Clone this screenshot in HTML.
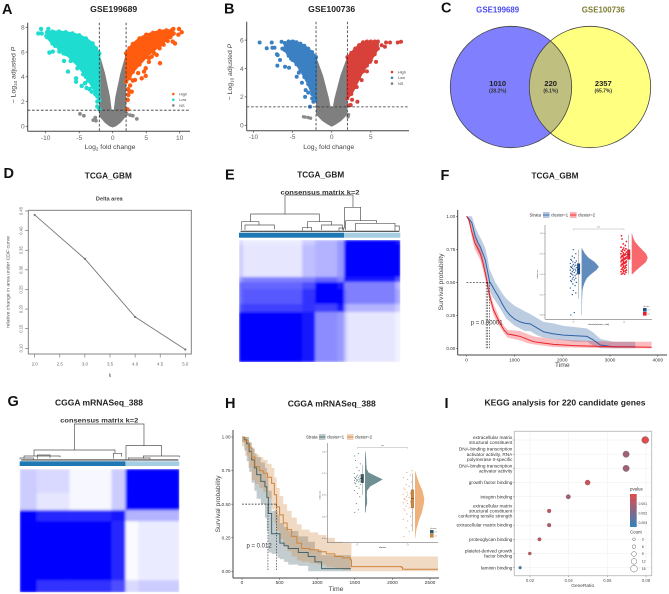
<!DOCTYPE html>
<html lang="en">
<head>
<meta charset="utf-8">
<title>Multi-panel figure: volcano, Venn, consensus, survival and KEGG plots</title>
<style>
html,body{margin:0;padding:0;background:#fff;}
svg{display:block;filter:blur(0.3px);font-family:"Liberation Sans","DejaVu Sans",sans-serif;}
.ttl{font-weight:bold;font-size:8.6px;fill:#222;text-anchor:middle;}
.ltr{font-weight:bold;font-size:14.5px;fill:#111;}
.axt{font-size:6.8px;fill:#444;text-anchor:middle;}
</style>
</head>
<body>
<svg id="figure" width="669" height="594" viewBox="0 0 669 594" xmlns="http://www.w3.org/2000/svg">
<defs>
  <filter id="softCells" x="-5%" y="-5%" width="110%" height="110%"><feGaussianBlur stdDeviation="1.3"/></filter>
  <clipPath id="heatClipE"><rect x="239" y="240" width="161.3" height="122"/></clipPath>
  <clipPath id="heatClipG"><rect x="19.7" y="469" width="159.6" height="123.3"/></clipPath>
</defs>
<rect x="0" y="0" width="669" height="594" fill="#fff"/>

<g id="panelA"></g>
<g id="panelB"></g>
<g id="panelC">
  <defs><clipPath id="vennClip"><circle cx="511" cy="87" r="60.7"/></clipPath></defs>
  <circle cx="511" cy="87" r="60.7" fill="#8080ff"/>
  <circle cx="590" cy="87" r="60.7" fill="#ffff80"/>
  <circle cx="590" cy="87" r="60.7" fill="#bfbf80" clip-path="url(#vennClip)"/>
  <circle cx="511" cy="87" r="60.7" fill="none" stroke="#444" stroke-width="0.8"/>
  <circle cx="590" cy="87" r="60.7" fill="none" stroke="#444" stroke-width="0.8"/>
  <text x="497.7" y="12.5" font-size="7.8" font-weight="bold" fill="#4a4af0" text-anchor="middle" textLength="43" lengthAdjust="spacingAndGlyphs">GSE199689</text>
  <text x="603.3" y="12.5" font-size="7.8" font-weight="bold" fill="#7d7d30" text-anchor="middle" textLength="43" lengthAdjust="spacingAndGlyphs">GSE100736</text>
  <text x="497.7" y="86" font-size="7.6" font-weight="bold" fill="#222" text-anchor="middle">1010</text>
  <text x="497.7" y="92.5" font-size="5" font-weight="bold" fill="#333" text-anchor="middle">(28.2%)</text>
  <text x="550.7" y="86" font-size="7.6" font-weight="bold" fill="#222" text-anchor="middle">220</text>
  <text x="550.7" y="92.5" font-size="5" font-weight="bold" fill="#333" text-anchor="middle">(6.1%)</text>
  <text x="603.3" y="86" font-size="7.6" font-weight="bold" fill="#222" text-anchor="middle">2357</text>
  <text x="603.3" y="92.5" font-size="5" font-weight="bold" fill="#333" text-anchor="middle">(65.7%)</text>
</g>
<g id="panelD"></g>
<g id="panelE"></g>
<g id="panelF"></g>
<g id="panelG"></g>
<g id="panelH"></g>
<g id="panelI"></g>

<g>
  <text class="ltr" x="2" y="14">A</text>
  <text class="ltr" x="224" y="13.5">B</text>
  <text class="ltr" x="441" y="12.5">C</text>
  <text class="ltr" x="3.5" y="178">D</text>
  <text class="ltr" x="225" y="179.5">E</text>
  <text class="ltr" x="440.5" y="180">F</text>
  <text class="ltr" x="7.5" y="406">G</text>
  <text class="ltr" x="225" y="408">H</text>
  <text class="ltr" x="444.5" y="408">I</text>
</g>

<g>
  <text class="ttl" x="113.7" y="12" textLength="47" lengthAdjust="spacingAndGlyphs">GSE199689</text>
  <text class="ttl" x="331.7" y="12" textLength="47" lengthAdjust="spacingAndGlyphs">GSE100736</text>
  <text class="ttl" x="108.3" y="178.5" textLength="47" lengthAdjust="spacingAndGlyphs">TCGA_GBM</text>
  <text class="ttl" x="320.7" y="177.5" textLength="47" lengthAdjust="spacingAndGlyphs">TCGA_GBM</text>
  <text class="ttl" x="555" y="178.5" textLength="47" lengthAdjust="spacingAndGlyphs">TCGA_GBM</text>
  <text class="ttl" x="99" y="405.5" textLength="88" lengthAdjust="spacingAndGlyphs">CGGA mRNASeq_388</text>
  <text class="ttl" x="331.7" y="406.5" textLength="88" lengthAdjust="spacingAndGlyphs">CGGA mRNASeq_388</text>
  <text class="ttl" x="565" y="405.5" textLength="161" lengthAdjust="spacingAndGlyphs">KEGG analysis for 220 candidate genes</text>
  <text x="109.3" y="200.5" font-size="5.6" font-weight="bold" fill="#444" text-anchor="middle">Delta area</text>
  <text x="320" y="194.5" font-size="6.4" font-weight="bold" fill="#333" text-anchor="middle" textLength="79" lengthAdjust="spacingAndGlyphs">consensus matrix k=2</text>
  <text x="99.3" y="422.5" font-size="6.4" font-weight="bold" fill="#333" text-anchor="middle" textLength="78" lengthAdjust="spacingAndGlyphs">consensus matrix k=2</text>
</g>

<g>
  <text class="axt" x="110" y="149" font-size="7">Log<tspan font-size="4.6" dy="1.5">2</tspan><tspan dy="-1.5"> fold change</tspan></text>
  <text class="axt" transform="translate(15.5,75) rotate(-90)">&#8722; Log<tspan font-size="4.6" dy="1.5">10</tspan><tspan dy="-1.5"> adjusted </tspan><tspan font-style="italic">P</tspan></text>
  <text class="axt" x="328.7" y="149">Log<tspan font-size="4.6" dy="1.5">2</tspan><tspan dy="-1.5"> fold change</tspan></text>
  <text class="axt" transform="translate(232,72) rotate(-90)">&#8722; Log<tspan font-size="4.6" dy="1.5">10</tspan><tspan dy="-1.5"> adjusted </tspan><tspan font-style="italic">P</tspan></text>
  <text x="110" y="377" font-size="5" fill="#555" text-anchor="middle">k</text>
  <text transform="translate(9.5,282) rotate(-90)" font-size="4.6" fill="#555" text-anchor="middle" textLength="92" lengthAdjust="spacingAndGlyphs">relative change in area under CDF curve</text>
  <text class="axt" x="562.3" y="367">Time</text>
  <text class="axt" transform="translate(443,282) rotate(-90)" font-size="6.2">Survival probability</text>
  <text class="axt" x="336" y="591">Time</text>
  <text class="axt" transform="translate(220,504) rotate(-90)" font-size="6.2">Survival probability</text>
  <text x="582.7" y="587" font-size="4.8" fill="#444" text-anchor="middle">GeneRatio</text>
</g>
</svg>

<script>
/* ---------- Panel A volcano data ---------- */
const aGrayX=[-2,-1.15,-0.4,-0.15,0.15,0.4,1.15,2,2,1.2,0.5,0,-0.5,-1.2,-2];
const aGrayY=[5.9,4.3,2.4,1.3,1.3,2.4,4.3,5.9,0.8,0.3,0,-0.1,0,0.3,0.8];
const aLowBandX=[-2,-2.5,-3,-4,-5,-6,-7,-8,-9,-9.8];
const aLowBandTop=[5.9,6.3,6.7,7.1,7.35,7.5,7.6,7.65,7.65,7.6];
const aLowBandBottom=[2.1,2.7,3.2,4.0,4.8,5.35,5.85,6.3,6.7,7.2];
const aHighBandX=[2,2.5,3,4,5,6,7,8,8.8];
const aHighBandTop=[5.9,6.3,6.65,7.1,7.4,7.55,7.7,7.75,7.75];
const aHighBandBottom=[3.6,3.9,4.4,5.0,5.6,6.1,6.5,7.0,7.4];
const aLowX=[-10.7,-9.6,-11.1,-10.6,-9.45,-8.95,-7.96,-7.36,-7.26,-6.27,-5.87,-6.67,-5.27,-5.47,-5.47,-4.63,-4.13,-3.48,-3.13,-2.29,-2.29,-2.3,-2,-9.9,-9.3,-8.8,-8.3,-7.8,-8.6,-7.2,-6.6,-6.1,-5.2,-4.4,-3.7,-3.9,-2.6,-2.2];
const aLowY=[7.87,7.87,7.5,7.5,5.96,6.04,6.04,5.9,5.28,5.28,5.77,4.42,4.69,3.88,3.6,3.26,3.48,3,2.8,2.4,2,1.6,1.37,7.3,7.1,6.9,6.7,6.4,6.5,6.2,5.8,5.4,5.1,4.2,3.7,3.1,2.6,3.1];
const aHighX=[9.05,9.9,10.3,9.8,9.3,8.95,6.57,7.06,5.82,5.42,4.93,4.68,4.93,4.33,3.33,2.84,2.34,2.24,2.2,9.1,8.6,8.2,7.6,7,6.2,5.4,3.8,3,2.6,2.3,2.5];
const aHighY=[7.87,7.87,7.6,7.4,6.7,6.85,5.77,5.1,5.63,5.5,4.69,4.42,4.07,3.88,3.75,2.8,2.53,2.13,1.37,7.5,7.2,6.9,6.6,6.3,5.9,5.2,4.3,3.7,3.3,3,2.8];
const aNsX=[-4.88,-4.3,-2.6,-2.5,-2.9,2.1,2.6,3,3.6];
const aNsY=[1,0.85,0.7,0.45,0.5,1,0.9,0.85,0.6];
const aXTicks=[-10,-5,0,5,10];
const aYTicks=[0,2,4,6,8];

/* ---------- Panel B volcano data ---------- */
const bGrayX=[-2,-1.1,-0.35,-0.15,0.15,0.35,1.1,2,2,1.2,0.5,0,-0.5,-1.2,-2];
const bGrayY=[4.85,3.5,1.9,1.3,1.3,1.9,3.5,4.85,0.75,0.3,0.05,-0.1,0.05,0.3,0.75];
const bLowBandX=[-2,-2.5,-3,-3.5,-4,-4.5,-5,-5.5,-6];
const bLowBandTop=[4.8,5.15,5.4,5.6,5.75,5.85,5.9,5.9,5.8];
const bLowBandBottom=[1.8,2.2,2.9,3.4,3.9,4.3,4.6,4.9,5.3];
const bHighBandX=[2,2.5,3,3.5,4,4.5,5,5.5,5.9];
const bHighBandTop=[4.8,5.1,5.4,5.65,5.85,5.9,5.9,5.9,5.9];
const bHighBandBottom=[1.9,2.2,2.7,3.3,3.8,4.2,4.6,5.0,5.4];
const bLowX=[-9.2,-7.66,-8.3,-7.57,-7.3,-6.9,-6.94,-6.6,-5.96,-5.45,-6.4,-5.5,-4.9,-4.47,-3.4,-3.32,-2.77,-2.34,-6.3,-7,-5.2,-4.2,-3.8,-3,-2.5];
const bLowY=[5.83,5.83,5.43,5.46,5.46,4.94,4.2,4.6,4.12,4.05,5.88,5.88,5.88,3.42,2,2.48,1.31,1.66,5.4,5,4.7,3.7,3,2.3,1.9];
const bHighX=[8.85,8.43,7.45,6.94,6.8,6.38,5.74,5.66,4.9,3.28,2.43,3.2,3.83,2.2,2.6,4.5,5.2];
const bHighY=[5.88,5.83,5.83,5.83,5.53,5.64,5.76,4.47,4.47,1.66,1.43,2.7,3.18,1.4,1.8,3.8,5.0];
const bNsX=[-3.6,-3.4,-3,-2.7,2.1,2.15];
const bNsY=[0.6,0.58,0.55,0.5,0.6,0.75];
const bXTicks=[-10,-5,0,5];
const bYTicks=[0,2,4,6];

/* ---------- Panel D delta-area data ---------- */
const dK=[2,3,4,5];
const dDelta=[0.44,0.328,0.18,0.097];
const dXTicks=[2,2.5,3,3.5,4,4.5,5];
const dYTicks=[0.10,0.15,0.20,0.25,0.30,0.35,0.40,0.45];

/* ---------- Panel E consensus data ---------- */
const eColSamples=[4,59,13,22,7,3,48,5];
const eRowSamples=[5,32,5,7,15,8,50];
const eMatrix=[
 [.15,.08,.2,.3,.4,.95,1,.95],
 [.2,.1,.25,.3,.4,1,1,1],
 [.4,.5,.5,.6,.5,.95,.9,.7],
 [.6,.6,.7,1,.9,.5,.5,.3],
 [.6,.65,.8,1,1,.55,.5,.35],
 [.7,.75,.8,.75,.9,.4,.3,.2],
 [1,1,.9,.45,.4,.2,.1,.05]
];
const eClusterSizes=[105,56];
const eMerges=[[210,414,105,162,142],[107,313,162,185,185],[389,437,142,205,182],[80,132,185,210,195],[90,178,195,210,208],[278,350,185,205,195],[262,290,203,212,212],[320,382,195,210,210],[392,485,182,210,190],[422,540,190,212,198],[540,553,198,212,212],[372,386,204,212,212]];

/* ---------- Panel G consensus data ---------- */
const gColSamples=[17,33,42,14,13,41];
const gRowSamples=[24,17,11,59,12];
const gMatrix=[
 [.2,.15,.03,.2,1,1],
 [.2,.1,.03,.2,1,1],
 [1,.85,.85,.9,.3,.3],
 [1,1,1,.85,.02,.08],
 [1,.8,.8,.7,.15,.2]
];
const gClusterSizes=[106,54];
const gMerges=[[223,432,192,270,257],[102,345,270,288,280],[378,485,257,298,288],[72,180,288,296,292],[112,150,285,296,294],[340,365,280,296,290],[430,538,288,296,292],[385,450,294,298,298],[60,100,294,298,298]];

/* ---------- Panel F survival data ---------- */
const fBlueT=[0,50,110,180,240,285,340,390,440,480,540,600,670,740,820,910,1010,1120,1220,1330,1470,1610,1800,2030,2280,2520,2650,2800,3070,3530];
const fBlueS=[1,.98,.95,.85,.80,.77,.72,.67,.58,.505,.47,.43,.39,.34,.29,.25,.22,.20,.19,.185,.155,.125,.11,.10,.095,.09,.063,.025,.012,.012];
const fBlueUp=[1,1,1,.92,.87,.84,.80,.76,.68,.60,.55,.50,.46,.42,.38,.35,.32,.30,.28,.26,.23,.20,.19,.17,.16,.15,.12,.07,.05,.05];
const fBlueLo=[1,.96,.91,.78,.73,.70,.64,.58,.48,.44,.39,.36,.32,.28,.23,.20,.17,.15,.13,.13,.10,.08,.07,.06,.05,.05,.02,0,0,0];
const fRedT=[0,50,110,170,230,285,340,390,430,460,510,565,630,700,780,860,990,1120,1260,1400,1600,1820,2240,3070,3870];
const fRedS=[1,.97,.88,.80,.76,.72,.65,.57,.50,.43,.36,.29,.24,.19,.14,.108,.10,.09,.07,.05,.04,.03,.02,.012,.008];
const fRedUp=[1,.99,.92,.85,.81,.77,.70,.62,.54,.47,.40,.33,.28,.22,.17,.14,.135,.13,.11,.09,.08,.07,.06,.05,.05];
const fRedLo=[1,.95,.84,.75,.71,.67,.60,.52,.46,.39,.32,.25,.20,.16,.115,.08,.07,.06,.04,.03,.02,.01,.005,0,0];
const fMedians=[410,440,480];
const fXTicks=[0,1000,2000,3000,4000];
const survYTicks=[0,0.25,0.5,0.75,1];

/* F inset */
const fVioLevels1=[0,.05,.1,.2,.3,.35,.4,.45,.5,.55,.59,.65,.7,.75,.8,.82];
const fVioDensity1=[.02,.02,.02,.03,.05,.1,.18,.3,.55,.85,1,.75,.4,.2,.06,.02];
const fVioLevels2=[.5,.55,.6,.65,.7,.75,.8,.85,.9,.95,1];
const fVioDensity2=[.05,.3,.6,.9,1,.9,.65,.4,.2,.08,.02];
const fRain1=[0,.03,.25,.27,.3,.33,.36,.38,.4,.41,.42,.43,.44,.45,.46,.47,.48,.49,.5,.5,.51,.52,.53,.54,.55,.55,.56,.57,.58,.58,.59,.6,.6,.61,.62,.63,.64,.65,.66,.67,.68,.7,.72,.75,.8];
const fRain2=[.5,.5,.51,.52,.53,.53,.54,.55,.55,.56,.56,.57,.58,.58,.59,.6,.6,.61,.61,.62,.62,.63,.63,.64,.64,.65,.65,.66,.66,.67,.67,.68,.68,.69,.69,.7,.7,.71,.71,.72,.72,.73,.73,.74,.74,.75,.75,.76,.77,.78,.78,.79,.8,.81,.82,.83,.85,.87,.9,.93,.97];
const fBox1=[.2,.5,.56,.63,.8];
const fBox2=[.5,.68,.74,.8,.98];

/* ---------- Panel H survival data ---------- */
const hDarkT=[0,30,62,95,128,165,195,250,305,330,350,394,473,504,560,615,750,880,970,1058,1447];
const hDarkS=[1,.98,.95,.89,.83,.77,.72,.67,.63,.55,.43,.28,.28,.21,.19,.17,.14,.11,.07,.02,.02];
const hDarkUp=[1,1,1,.96,.92,.88,.85,.81,.77,.70,.60,.45,.42,.36,.33,.30,.26,.22,.16,.12,.12];
const hDarkLo=[1,.96,.90,.82,.74,.66,.60,.54,.50,.40,.30,.14,.13,.10,.09,.07,.05,.04,0,0,0];
const hOrangeT=[0,40,84,130,172,230,283,340,394,430,460,500,549,600,660,730,792,900,1013,1120,1235,1340,1442,1456,2120,2135,2606];
const hOrangeS=[1,.97,.92,.85,.78,.75,.73,.70,.655,.57,.48,.42,.36,.31,.26,.21,.17,.16,.146,.13,.11,.10,.085,.035,.03,.015,.015];
const hOrangeUp=[1,1,.96,.91,.87,.85,.83,.80,.77,.70,.62,.56,.50,.45,.40,.35,.31,.29,.27,.25,.22,.21,.21,.11,.11,.11,.11];
const hOrangeLo=[1,.93,.86,.77,.68,.65,.62,.59,.54,.46,.36,.30,.24,.19,.15,.11,.08,.07,.06,.05,.03,.02,.01,0,0,0,0];
const hMedians=[345,460];
const hXTicks=[0,500,1000,1500,2000,2500];

/* H inset */
const hVioLevels1=[.3,.35,.4,.45,.5,.55,.6,.65,.68,.72,.76,.8,.85,.9,.95,1];
const hVioDensity1=[.04,.05,.12,.12,.1,.12,.3,.75,1,.6,.2,.1,.08,.07,.05,.03];
const hVioLevels2=[0,.1,.2,.3,.4,.46,.55,.65,.75,.78];
const hVioDensity2=[.03,.15,.4,.75,.95,1,.8,.4,.1,.02];
const hRain1=[.3,.33,.4,.48,.52,.55,.58,.6,.62,.63,.64,.65,.66,.66,.67,.67,.68,.68,.69,.69,.7,.7,.71,.72,.73,.75,.78,.82,.86,.9,.95,.98];
const hRain2=[.02,.08,.12,.15,.2,.22,.25,.28,.3,.32,.34,.35,.37,.38,.4,.41,.42,.43,.44,.45,.46,.47,.48,.49,.5,.51,.52,.53,.55,.56,.58,.6,.62,.65,.68,.7,.73,.76,.78];
const hBox1=[.5,.64,.69,.74,.85];
const hBox2=[.08,.35,.46,.56,.75];
const insetYTicks=[0,0.25,0.5,0.75,1];

/* ---------- Panel I KEGG data ---------- */
const iTerms=[
 ["extracellular matrix","structural constituent"],
 ["DNA-binding transcription","activator activity, RNA","polymerase II-specific"],
 ["DNA-binding transcription","activator activity"],
 ["growth factor binding"],
 ["integrin binding"],
 ["extracellular matrix","structural constituent","conferring tensile strength"],
 ["extracellular matrix binding"],
 ["proteoglycan binding"],
 ["platelet-derived growth","factor binding"],
 ["laminin binding"]
];
const iRatio=[.0796,.0697,.0697,.0498,.0398,.0299,.0299,.0249,.0199,.0149];
const iCount=[16,14,14,10,8,6,6,5,4,3];
const iPvalue=[.0002,.0013,.0013,.0004,.0012,.0005,.0008,.0005,.0004,.0031];
const iXTicks=[.02,.04,.06,.08];
const iPTicks=[.001,.002,.003];
const iCountTicks=[3,6,9,12,15];

/* ---------- helpers ---------- */
const NS='http://www.w3.org/2000/svg';
function el(tag,attrs,parent,name){
  const e=document.createElementNS(NS,tag);
  for(const k in attrs){e.setAttribute(k,attrs[k]);}
  
  
  parent.appendChild(e);
  return e;
}
function txt(parent,name,x,y,str,size,fill,anchor,extra){
  const a=Object.assign({x:x,y:y,'font-size':size,fill:fill,'text-anchor':anchor||'middle'},extra||{});
  const t=el('text',a,parent,name);
  t.textContent=str;
  return t;
}
function lin(d0,d1,r0,r1){return function(v){return r0+(v-d0)*(r1-r0)/(d1-d0);};}
function fx(v){return Math.round(v*100)/100;}
function line(parent,name,x1,y1,x2,y2,stroke,w,dash){
  const a={x1:fx(x1),y1:fx(y1),x2:fx(x2),y2:fx(y2),stroke:stroke,'stroke-width':w};
  if(dash){a['stroke-dasharray']=dash;}
  return el('line',a,parent,name);
}
function polyD(xs,ys,sx,sy){
  return xs.map(function(v,i){return (i?'L':'M')+fx(sx(v))+' '+fx(sy(ys[i]));}).join('')+'Z';
}

/* ---------- volcano ---------- */
function volcano(g,c){
  const sx=lin(0,1,c.x0,c.x0+c.xs), sy=lin(0,1,c.y0,c.y0-c.ys), r=c.r;
  el('path',{d:polyD(c.grayX,c.grayY,sx,sy),fill:'#7f7f7f'},g,'ns-region');
  function dense(name,X,T,B,col){
    const xs=X.concat(X.slice().reverse()), ys=T.concat(B.slice().reverse());
    el('path',{d:polyD(xs,ys,sx,sy),fill:col,stroke:col,'stroke-width':r},g,name+'-dense-region');
    xs.forEach(function(v,i){
      el('circle',{cx:fx(sx(v)),cy:fx(sy(ys[i])),r:r,fill:col},g,name+'-point');
    });
  }
  dense('low',c.lowBandX,c.lowTop,c.lowBot,c.lowCol);
  dense('high',c.highBandX,c.highTop,c.highBot,c.highCol);
  c.lowX.forEach(function(v,i){el('circle',{cx:fx(sx(v)),cy:fx(sy(c.lowY[i])),r:r,fill:c.lowCol},g,'low-point');});
  c.highX.forEach(function(v,i){el('circle',{cx:fx(sx(v)),cy:fx(sy(c.highY[i])),r:r,fill:c.highCol},g,'high-point');});
  c.nsX.forEach(function(v,i){el('circle',{cx:fx(sx(v)),cy:fx(sy(c.nsY[i])),r:r-0.3,fill:'#8a8a8a'},g,'ns-point');});
  const L=c.left,R=c.right,T=c.top,B=c.bottom;
  line(g,'threshold-fdr',L,sy(1.3),R,sy(1.3),'#333',0.8,'2.6 1.8');
  line(g,'threshold-fc-low',sx(-2),T,sx(-2),B,'#333',0.8,'2.6 1.8');
  line(g,'threshold-fc-high',sx(2),T,sx(2),B,'#333',0.8,'2.6 1.8');
  line(g,'y-axis-line',L,T,L,B,'#444',1);
  line(g,'x-axis-line',L,B,R,B,'#444',1);
  c.xTicks.forEach(function(t){
    line(g,'x-tick',sx(t),B,sx(t),B+2,'#444',0.7);
    txt(g,'x-tick-label',fx(sx(t)),B+8.5,String(t),6.6,'#666');
  });
  c.yTicks.forEach(function(t){
    line(g,'y-tick',L-2,sy(t),L,sy(t),'#444',0.7);
    txt(g,'y-tick-label',L-3,fx(sy(t))+2.3,String(t),6.6,'#666','end');
  });
  ['High','Low','NS'].forEach(function(n,i){
    const col=[c.highCol,c.lowCol,'#7f7f7f'][i], ly=c.legY+i*c.legStep;
    el('circle',{cx:c.legX,cy:ly,r:1.3,fill:col},g,'legend-marker-'+n.toLowerCase());
    txt(g,'legend-label-'+n.toLowerCase(),c.legX+6,ly+1.4,n,3.8,'#444','start');
  });
}
volcano(document.getElementById('panelA'),{x0:112.7,xs:6.7,y0:126.3,ys:12.375,r:2.2,
  grayX:aGrayX,grayY:aGrayY,lowBandX:aLowBandX,lowTop:aLowBandTop,lowBot:aLowBandBottom,
  highBandX:aHighBandX,highTop:aHighBandTop,highBot:aHighBandBottom,
  lowX:aLowX,lowY:aLowY,highX:aHighX,highY:aHighY,nsX:aNsX,nsY:aNsY,
  lowCol:'#1fdcd0',highCol:'#ff5c10',left:27.7,right:190,top:22.7,bottom:131.3,
  xTicks:aXTicks,yTicks:aYTicks,legX:173.3,legY:94,legStep:5.7});
volcano(document.getElementById('panelB'),{x0:331.7,xs:7.83,y0:125.3,ys:14.2,r:2,
  grayX:bGrayX,grayY:bGrayY,lowBandX:bLowBandX,lowTop:bLowBandTop,lowBot:bLowBandBottom,
  highBandX:bHighBandX,highTop:bHighBandTop,highBot:bHighBandBottom,
  lowX:bLowX,lowY:bLowY,highX:bHighX,highY:bHighY,nsX:bNsX,nsY:bNsY,
  lowCol:'#3a80c2',highCol:'#d8403a',left:246.7,right:409,top:21.7,bottom:130.7,
  xTicks:bXTicks,yTicks:bYTicks,legX:392,legY:72,legStep:5.8});

/* ---------- delta area (D) ---------- */
(function(){
  const g=document.getElementById('panelD');
  const sx=lin(2,5,34.7,185.3), sy=lin(0.1,0.45,348.3,211);
  el('rect',{x:28.3,y:210.3,width:163,height:143.7,fill:'none',stroke:'#777','stroke-width':0.9},g,'plot-box');
  const d=dK.map(function(v,i){return (i?'L':'M')+fx(sx(v))+' '+fx(sy(dDelta[i]));}).join('');
  el('path',{d:d,fill:'none',stroke:'#777','stroke-width':0.9},g,'delta-area-line');
  dK.forEach(function(v,i){el('circle',{cx:fx(sx(v)),cy:fx(sy(dDelta[i])),r:1.1,fill:'#777'},g,'delta-area-point');});
  dXTicks.forEach(function(t){
    line(g,'x-tick',sx(t),354,sx(t),357.5,'#666',0.6);
    txt(g,'x-tick-label',fx(sx(t)),365.5,t.toFixed(1),4.4,'#666');
  });
  dYTicks.forEach(function(t){
    line(g,'y-tick',25,sy(t),28.3,sy(t),'#666',0.6);
    const lab=txt(g,'y-tick-label',0,0,t.toFixed(2),4.2,'#666');
    lab.setAttribute('transform','translate(22.5,'+fx(sy(t))+') rotate(-90)');
  });
})();

/* ---------- consensus (E, G) ---------- */
function consensus(g,c){
  const colTotal=c.cols.reduce(function(a,b){return a+b;},0), rowTotal=c.rows.reduce(function(a,b){return a+b;},0);
  const sx=lin(0,colTotal,c.left,c.right), sy=lin(0,rowTotal,c.top,c.bottom);
  const clip=el('g',{'clip-path':'url(#'+c.clip+')'},g,'heatmap-clip');
  const soft=el('g',{filter:'url(#softCells)'},clip,'heatmap-cells');
  let ry=0;
  c.rows.forEach(function(rh,ri){
    let cx=0;
    c.cols.forEach(function(cw,ci){
      const v=c.matrix[ri][ci], shade=Math.round(255*(1-v));
      el('rect',{x:fx(sx(cx)),y:fx(sy(ry)),width:fx(sx(cx+cw)-sx(cx))+0.3,height:fx(sy(ry+rh)-sy(ry))+0.3,fill:'rgb('+shade+','+shade+',255)'},soft,'heatmap-cell');
      cx+=cw;
    });
    ry+=rh;
  });
  const total=c.clusters[0]+c.clusters[1], bx=lin(0,total,c.left,c.right);
  el('rect',{x:c.left,y:c.barTop,width:fx(bx(c.clusters[0])-c.left),height:c.barH,fill:'#1f78b4'},g,'cluster-1-bar');
  el('rect',{x:fx(bx(c.clusters[0])),y:c.barTop,width:fx(c.right-bx(c.clusters[0])),height:c.barH,fill:'#a6cee3'},g,'cluster-2-bar');
  const hx=lin(c.dx0,c.dx1,c.dr0,c.dr1), hy=lin(c.dy0,c.dy1,c.ds0,c.ds1);
  c.merges.forEach(function(m){
    const d='M'+fx(hx(m[0]))+' '+fx(hy(m[3]))+'V'+fx(hy(m[2]))+'H'+fx(hx(m[1]))+'V'+fx(hy(m[4]));
    el('path',{d:d,fill:'none',stroke:'#555','stroke-width':0.7},g,'dendrogram-link');
  });
  line(g,'dendrogram-leaves',c.left+1.5,c.barTop-1.4,c.right-1,c.barTop-1.4,'#444',1.1);
}
consensus(document.getElementById('panelE'),{clip:'heatClipE',cols:eColSamples,rows:eRowSamples,matrix:eMatrix,left:239,right:400.3,top:240,bottom:362,
  clusters:eClusterSizes,barTop:232.7,barH:5,merges:eMerges,dx0:72,dx1:556,dr0:239,dr1:400.3,dy0:105,dy1:213,ds0:195,ds1:231});
consensus(document.getElementById('panelG'),{clip:'heatClipG',cols:gColSamples,rows:gRowSamples,matrix:gMatrix,left:19.7,right:179.3,top:469,bottom:592.3,
  clusters:gClusterSizes,barTop:461.3,barH:4.7,merges:gMerges,dx0:59,dx1:538,dr0:19.7,dr1:179.3,dy0:192,dy1:298,ds0:424,ds1:459.3});

/* ---------- survival ---------- */
function stepD(ts,ss,sx,sy){
  let d='';
  ts.forEach(function(t,i){
    if(!i){d+='M'+fx(sx(t))+' '+fx(sy(ss[i]));}
    else{d+='H'+fx(sx(t))+'V'+fx(sy(ss[i]));}
  });
  return d;
}
function stepBand(ts,up,lo,sx,sy){
  let d=stepD(ts,up,sx,sy);
  for(let i=ts.length-1;i>=0;i--){
    d+='V'+fx(sy(lo[i]));
    if(i>0){d+='H'+fx(sx(ts[i-1]));}
  }
  return d+'Z';
}
function smoothD(ts,ss,sx,sy){
  return ts.map(function(t,i){return (i?'L':'M')+fx(sx(t))+' '+fx(sy(ss[i]));}).join('');
}
function smoothBand(ts,up,lo,sx,sy){
  return polyD(ts.concat(ts.slice().reverse()),up.concat(lo.slice().reverse()),sx,sy);
}
function survival(g,c){
  const sx=c.sx, sy=c.sy;
  c.series.forEach(function(s){
    const d=c.smooth?smoothBand(s.t,s.up,s.lo,sx,sy):stepBand(s.t,s.up,s.lo,sx,sy);
    el('path',{d:d,fill:s.col,'fill-opacity':s.alpha,stroke:'none'},g,s.name+'-confidence-band');
  });
  c.series.forEach(function(s){
    const d=c.smooth?smoothD(s.t,s.s,sx,sy):stepD(s.t,s.s,sx,sy);
    el('path',{d:d,fill:'none',stroke:s.col,'stroke-width':1},g,s.name+'-survival-curve');
  });
  const maxM=Math.max.apply(null,c.medians);
  line(g,'median-line-horizontal',sx(0),sy(0.5),sx(maxM),sy(0.5),'#222',0.7,'1.8 1.4');
  c.medians.forEach(function(m){
    line(g,'median-line-vertical',sx(m),sy(0.5),sx(m),sy(0),'#222',0.6,'1.5 1.3');
  });
  line(g,'y-axis-line',c.left,c.top,c.left,c.bottom,'#444',1);
  line(g,'x-axis-line',c.left,c.bottom,c.right,c.bottom,'#444',1);
  c.xTicks.forEach(function(t){
    line(g,'x-tick',sx(t),c.bottom,sx(t),c.bottom+1.6,'#444',0.6);
    txt(g,'x-tick-label',fx(sx(t)),c.bottom+c.xLabelOff,String(t),4.8,'#333');
  });
  survYTicks.forEach(function(t){
    line(g,'y-tick',c.left-1.6,sy(t),c.left,sy(t),'#444',0.6);
    txt(g,'y-tick-label',c.left-2.4,fx(sy(t))+1.6,t.toFixed(2),4.6,'#333','end');
  });
  txt(g,'p-value-label',c.pX,c.pY,c.pText,6,'#333','start');
  /* legend */
  txt(g,'legend-title',c.legX,c.legY+1.6,'Strata',4.3,'#333','start');
  c.series.forEach(function(s,i){
    const lx=c.legItems[i];
    el('rect',{x:lx,y:c.legY-3,width:6.5,height:6,fill:s.col,'fill-opacity':0.35},g,s.name+'-legend-swatch');
    line(g,s.name+'-legend-line',lx,c.legY,lx+6.5,c.legY,s.col,0.9);
    txt(g,s.name+'-legend-label',lx+8,c.legY+1.6,'cluster='+(i+1),4.2,'#333','start');
  });
}
function raincloud(g,c){
  const iy=lin(0,1,c.yBase,c.yTop);
  line(g,'inset-y-axis',c.left,c.top,c.left,c.bottom,'#777',0.6);
  line(g,'inset-x-axis',c.left,c.bottom,c.right,c.bottom,'#777',0.6);
  insetYTicks.forEach(function(t){
    line(g,'inset-y-tick',c.left-1,iy(t),c.left,iy(t),'#777',0.4);
    txt(g,'inset-y-tick-label',c.left-1.5,fx(iy(t))+0.7,t.toFixed(2),2,'#666','end');
  });
  const jitter=[-2.5,1,-1,2.5,0,-3,1.8,-0.5,3,-1.8];
  c.groups.forEach(function(gr,gi){
    const cx=c.cats[gi];
    let d='M'+fx(cx+gr.base)+' '+fx(iy(gr.levels[0]));
    gr.levels.forEach(function(l,i){d+='L'+fx(cx+gr.base+gr.density[i]*gr.width)+' '+fx(iy(l));});
    d+='L'+fx(cx+gr.base)+' '+fx(iy(gr.levels[gr.levels.length-1]))+'Z';
    el('path',{d:d,fill:gr.violin},g,'inset-violin-'+(gi+1));
    gr.rain.forEach(function(v,i){
      el('circle',{cx:fx(cx+gr.rainOff+jitter[i%10]*gr.spread),cy:fx(iy(v)),r:gr.dot,fill:gr.col},g,'inset-rain-point');
    });
    const b=gr.box, bx=cx+gr.boxOff;
    line(g,'inset-box-whisker',bx,iy(b[0]),bx,iy(b[4]),'#888',0.5);
    el('rect',{x:fx(bx-1.4),y:fx(iy(b[3])),width:2.8,height:fx(iy(b[1])-iy(b[3])),fill:gr.col,stroke:'#444','stroke-width':0.2},g,'inset-box');
    line(g,'inset-box-median',bx-1.4,iy(b[2]),bx+1.4,iy(b[2]),'#222',0.4);
    line(g,'inset-x-tick',cx,c.bottom,cx,c.bottom+1,'#777',0.4);
    txt(g,'inset-x-tick-label',fx(cx),c.bottom+3,'c'+(gi+1),2,'#666');
  });
  const by=c.bracketY;
  el('path',{d:'M'+fx(c.cats[0])+' '+(by+1.2)+'V'+by+'H'+fx(c.cats[1])+'V'+(by+1.2),fill:'none',stroke:'#999','stroke-width':0.4},g,'inset-significance-bracket');
  txt(g,'inset-significance-label',fx((c.cats[0]+c.cats[1])/2),by-0.5,'***',2.6,'#555');
  const xt=txt(g,'inset-x-axis-title',fx((c.cats[0]+c.cats[1])/2),c.bottom+5.5,c.xTitle,2.2,'#444');
  xt.setAttribute('font-weight','bold');
  const yt=txt(g,'inset-y-axis-title',0,0,'riskscore',2.2,'#444');
  yt.setAttribute('transform','translate('+(c.left-7)+','+fx(iy(0.5))+') rotate(-90)');
  txt(g,'inset-legend-title',c.legX,c.legY,'cluster',2.2,'#444','start');
  c.groups.forEach(function(gr,gi){
    el('rect',{x:c.legX,y:c.legY+1+gi*4,width:3.6,height:3.6,fill:gr.col},g,'inset-legend-swatch-'+(gi+1));
    txt(g,'inset-legend-label-'+(gi+1),c.legX+4.6,c.legY+3.7+gi*4,'c'+(gi+1),2,'#444','start');
  });
}
(function(){
  const g=document.getElementById('panelF');
  survival(g,{smooth:true,sx:lin(0,1000,466.6,514.4),sy:lin(0,1,348.3,216.3),left:457.7,right:667,top:210,bottom:355,
    xTicks:fXTicks,xLabelOff:6.6,medians:fMedians,pX:470.7,pY:324.5,pText:'p = 0.00001',
    legX:529.5,legY:215,legItems:[543,570],
    series:[{name:'cluster-1',t:fBlueT,s:fBlueS,up:fBlueUp,lo:fBlueLo,col:'#2f62a6',alpha:0.32},
            {name:'cluster-2',t:fRedT,s:fRedS,up:fRedUp,lo:fRedLo,col:'#f02028',alpha:0.3}]});
  raincloud(g,{left:545,right:652,top:225,bottom:319.3,yBase:315,yTop:233.3,cats:[573.3,624],bracketY:229,
    xTitle:'cluster(cluster_risk)',legX:643,legY:307,
    groups:[{levels:fVioLevels1,density:fVioDensity1,rain:fRain1,box:fBox1,col:'#1d4f8f',violin:'#5f8cbc',base:8.3,width:17.3,rainOff:0,boxOff:5.3,spread:1,dot:0.65},
            {levels:fVioLevels2,density:fVioDensity2,rain:fRain2,box:fBox2,col:'#f01c28',violin:'#f8686c',base:7.7,width:16,rainOff:-0.3,boxOff:4.7,spread:0.9,dot:0.9}]});
})();
(function(){
  const g=document.getElementById('panelH');
  survival(g,{smooth:false,sx:lin(0,1000,242,317.2),sy:lin(0,1,571.3,437),left:233,right:439,top:430,bottom:578,
    xTicks:hXTicks,xLabelOff:6.2,medians:hMedians,pX:246.5,pY:547.5,pText:'p = 0.012',
    legX:306,legY:437,legItems:[319,347],
    series:[{name:'cluster-1',t:hDarkT,s:hDarkS,up:hDarkUp,lo:hDarkLo,col:'#45656b',alpha:0.32},
            {name:'cluster-2',t:hOrangeT,s:hOrangeS,up:hOrangeUp,lo:hOrangeLo,col:'#d0853c',alpha:0.3}]});
  raincloud(g,{left:327.3,right:438,top:443,bottom:542.7,yBase:538.3,yTop:451.7,cats:[357.3,407.7],bracketY:447.5,
    xTitle:'cluster',legX:430,legY:529,
    groups:[{levels:hVioLevels1,density:hVioDensity1,rain:hRain1,box:hBox1,col:'#3c5a60',violin:'#6f8f93',base:7.7,width:17.7,rainOff:0,boxOff:5,spread:1,dot:0.5},
            {levels:hVioLevels2,density:hVioDensity2,rain:hRain2,box:hBox2,col:'#d0853c',violin:'#eeb27a',base:7.3,width:9.3,rainOff:0,boxOff:4.7,spread:1.5,dot:0.5}]});
})();

/* ---------- KEGG dotplot (I) ---------- */
(function(){
  const g=document.getElementById('panelI');
  const L=514.3,R=651.7,T=431.3,B=575.7;
  const sx=lin(.02,.08,530,646);
  const sy=lin(0,9,440,567.7);
  const sr=lin(3,16,1.4,3.5);
  function pColor(p){
    const f=Math.min(1,Math.max(0,(p-.0002)/(.0032-.0002)));
    const a=[224,76,76],b=[49,130,189];
    return 'rgb('+a.map(function(v,i){return Math.round(v+(b[i]-v)*f);}).join(',')+')';
  }
  iXTicks.forEach(function(t){line(g,'x-gridline',sx(t),T,sx(t),B,'#eee',0.5);});
  iTerms.forEach(function(term,i){line(g,'y-gridline',L,sy(i),R,sy(i),'#eee',0.5);});
  el('rect',{x:L,y:T,width:R-L,height:B-T,fill:'none',stroke:'#bbb','stroke-width':0.9},g,'panel-border');
  iTerms.forEach(function(term,i){
    const y0=sy(i)-(term.length-1)*2.6+1.6;
    term.forEach(function(s,j){
      txt(g,'term-label',512.3,fx(y0+j*5.2),s,4.7,'#333','end');
    });
    line(g,'y-tick',L-1.3,sy(i),L,sy(i),'#666',0.5);
    el('circle',{cx:fx(sx(iRatio[i])),cy:fx(sy(i)),r:fx(sr(iCount[i])),fill:pColor(iPvalue[i]),stroke:'#666','stroke-width':0.4},g,'term-dot');
  });
  iXTicks.forEach(function(t){
    line(g,'x-tick',sx(t),B,sx(t),B+1.3,'#666',0.5);
    txt(g,'x-tick-label',fx(sx(t)),581.8,t.toFixed(2),4.2,'#555');
  });
  const pScale=lin(.001,.003,503.7,523);
  txt(g,'pvalue-legend-title',630,490.5,'pvalue',4.4,'#333','start');
  const grad=el('linearGradient',{id:'pGrad',x1:0,y1:0,x2:0,y2:1},g,'pvalue-gradient');
  el('stop',{offset:'0','stop-color':'#e04c4c'},grad,'gradient-stop-red');
  el('stop',{offset:'1','stop-color':'#3182bd'},grad,'gradient-stop-blue');
  el('rect',{x:630,y:494,width:6.7,height:33,fill:'url(#pGrad)'},g,'pvalue-colorbar');
  iPTicks.forEach(function(t){
    txt(g,'pvalue-tick-label',638.5,fx(pScale(t))+1.2,t.toFixed(3),3.4,'#333','start');
  });
  txt(g,'count-legend-title',630,533.5,'Count',4.4,'#333','start');
  const legendY=lin(0,4,539.3,568.7);
  iCountTicks.forEach(function(t,i){
    el('circle',{cx:634,cy:fx(legendY(i)),r:fx(sr(t)),fill:'#fff',stroke:'#555','stroke-width':0.45},g,'count-legend-circle');
    txt(g,'count-legend-label',641.7,fx(legendY(i))+1.2,String(t),3.4,'#333','start');
  });
})();
</script>
</body>
</html>
